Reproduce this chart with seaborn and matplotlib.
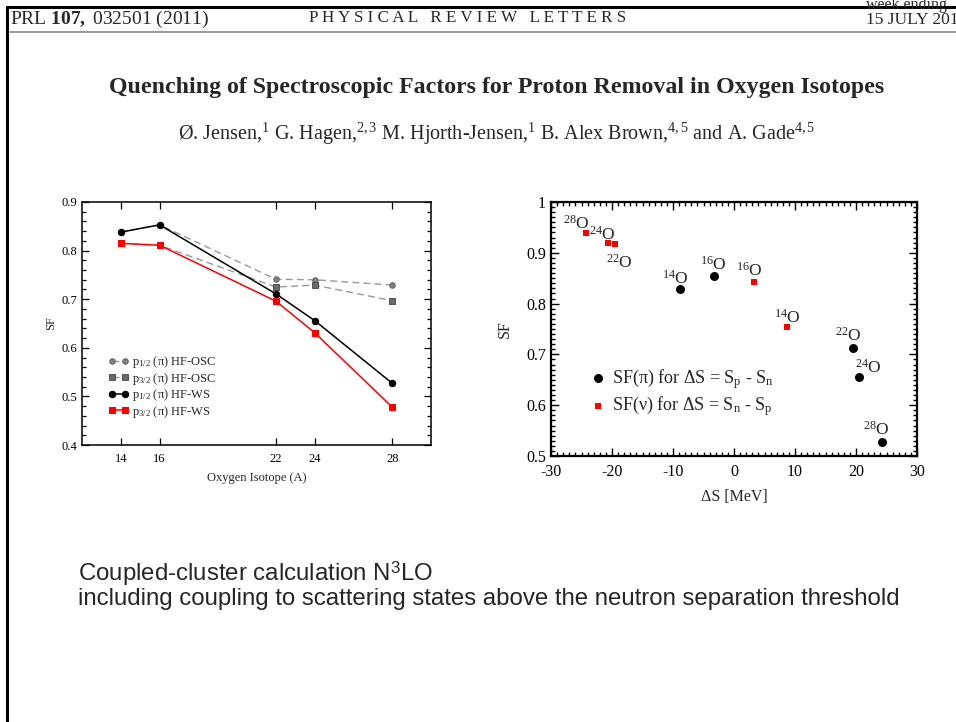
import matplotlib
matplotlib.use("Agg")
import matplotlib.pyplot as plt
from matplotlib.lines import Line2D
from matplotlib.ticker import MultipleLocator, FixedLocator
import seaborn as sns
import pandas as pd

# ---------------- data ----------------
isotopes = [14, 16, 22, 24, 28]
sf_p12_osc = [0.838, 0.853, 0.741, 0.740, 0.729]
sf_p32_osc = [0.815, 0.811, 0.725, 0.729, 0.697]
sf_p12_ws = [0.838, 0.853, 0.711, 0.656, 0.527]
sf_p32_ws = [0.815, 0.811, 0.696, 0.631, 0.478]
left_labels = [r"p$_{1/2}$ (π) HF-OSC", r"p$_{3/2}$ (π) HF-OSC",
               r"p$_{1/2}$ (π) HF-WS", r"p$_{3/2}$ (π) HF-WS"]

mass_pi = ["14", "16", "22", "24", "28"]
ds_pi = [-8.8, -3.2, 19.5, 20.55, 24.2]
sf_pi = [0.829, 0.854, 0.712, 0.656, 0.527]
mass_nu = ["28", "24", "22", "16", "14"]
ds_nu = [-24.2, -20.6, -19.45, 3.2, 8.75]
sf_nu = [0.939, 0.919, 0.917, 0.843, 0.754]
right_labels = [r"SF(π) for ΔS = S$_\mathrm{p}$ - S$_\mathrm{n}$",
                r"SF(ν) for ΔS = S$_\mathrm{n}$ - S$_\mathrm{p}$"]

# label offsets (pixels, O-centre relative to point; +y = down)
off_pi = [(0, -11.3), (4, -12), (0, -14), (14.3, -10), (0, -13.3)]
off_nu = [(-4.7, -10.3), (-1.3, -9), (8.7, 17.3), (0.3, -11.7), (5.3, -10)]

# ---------------- style ----------------
sns.set_theme(style="ticks")
plt.rcParams["font.family"] = ["Liberation Serif", "DejaVu Serif"]
plt.rcParams["mathtext.fontset"] = "custom"
plt.rcParams["mathtext.rm"] = "Liberation Serif"
plt.rcParams["mathtext.it"] = "Liberation Serif:italic"
plt.rcParams["mathtext.bf"] = "Liberation Serif:bold"
plt.rcParams["mathtext.sf"] = "Liberation Sans"
plt.rcParams["axes.formatter.use_mathtext"] = False
plt.rcParams["axes.unicode_minus"] = False

W, H = 956, 722
fig = plt.figure(figsize=(W / 100, H / 100), dpi=100)
fig.patch.set_facecolor("white")


def fx(px):
    return px / W


def fy(py):
    return 1 - py / H


# frame lines
fig.add_artist(Line2D([fx(7), 1], [fy(7), fy(7)], color="black", lw=2.2))
fig.add_artist(Line2D([fx(7), fx(7)], [fy(7), 0], color="black", lw=2.2))
fig.add_artist(Line2D([fx(10), 1], [fy(32), fy(32)], color="#888888", lw=1.2))

# header
fig.text(fx(10), fy(19), r"PRL $\mathbf{107,}$ 032501 (2011)", fontsize=14, va="center")
fig.text(fx(468), fy(18), "P H Y S I C A L   R E V I E W   L E T T E R S", fontsize=12.3,
         va="center", ha="center")
fig.text(fx(866), fy(5), "week ending", fontsize=11.5, va="center")
fig.text(fx(866), fy(20), "15 JULY 2011", fontsize=12.5, va="center")

fig.text(fx(497), fy(88), "Quenching of Spectroscopic Factors for Proton Removal in Oxygen Isotopes",
         fontsize=17.2, fontweight="bold", ha="center", va="center")
fig.text(fx(497), fy(134),
         r"Ø. Jensen,$^{1}$ G. Hagen,$^{2,3}$ M. Hjorth-Jensen,$^{1}$ B. Alex Brown,$^{4,5}$ and A. Gade$^{4,5}$",
         fontsize=14.5, ha="center", va="center")

fig.text(fx(78), fy(574), r"Coupled-cluster calculation N$^{\mathsf{3}}$LO", fontsize=17.3,
         family="Liberation Sans", va="center")
fig.text(fx(78), fy(599), "including coupling to scattering states above the neutron separation threshold",
         fontsize=17.3, family="Liberation Sans", va="center")

# ---------------- left chart ----------------
axL = fig.add_axes([fx(82), fy(445), fx(431 - 82), (445 - 202) / H])
dfL = pd.DataFrame({"A": isotopes, "osc12": sf_p12_osc, "osc32": sf_p32_osc,
                    "ws12": sf_p12_ws, "ws32": sf_p32_ws})
dash = (5, 3)
sns.lineplot(data=dfL, x="A", y="osc12", ax=axL, color="#999999", lw=1.0,
             linestyle=(0, dash), marker="o", markersize=4, markerfacecolor="#808080",
             markeredgecolor="#5a5a5a", markeredgewidth=0.6, label=left_labels[0], sort=False)
sns.lineplot(data=dfL, x="A", y="osc32", ax=axL, color="#999999", lw=1.0,
             linestyle=(0, dash), marker="s", markersize=3.8, markerfacecolor="#6a6a6a",
             markeredgecolor="#444444", markeredgewidth=0.6, label=left_labels[1], sort=False)
sns.lineplot(data=dfL, x="A", y="ws12", ax=axL, color="black", lw=1.1,
             marker="o", markersize=4.6, markerfacecolor="black", markeredgecolor="black",
             label=left_labels[2], sort=False)
sns.lineplot(data=dfL, x="A", y="ws32", ax=axL, color="red", lw=1.1,
             marker="s", markersize=4.2, markerfacecolor="red", markeredgecolor="red",
             label=left_labels[3], sort=False)
axL.set_xlim(12, 30)
axL.set_ylim(0.4, 0.9)
axL.xaxis.set_major_locator(FixedLocator(isotopes))
axL.yaxis.set_major_locator(MultipleLocator(0.1))
axL.yaxis.set_minor_locator(MultipleLocator(0.02))
axL.tick_params(axis="both", which="both", direction="in", top=True, right=True,
                labelsize=9, colors="black", width=0.9)
axL.tick_params(which="major", length=5)
axL.tick_params(which="minor", length=3)
axL.tick_params(axis="x", pad=6)
for s in axL.spines.values():
    s.set_linewidth(1.1)
    s.set_color("black")
axL.set_xlabel("Oxygen Isotope (A)", fontsize=9, labelpad=5)
axL.set_ylabel("SF", fontsize=9, labelpad=3)
axL.legend(loc="upper left", bbox_to_anchor=(0.06, 0.395), frameon=False, fontsize=9,
           handlelength=1.65, handletextpad=0.25, labelspacing=0.04, numpoints=2,
           borderaxespad=0)

# ---------------- right chart ----------------
axR = fig.add_axes([fx(551), fy(456), fx(917 - 551), (456 - 202) / H])
dfPi = pd.DataFrame({"dS": ds_pi, "SF": sf_pi})
dfNu = pd.DataFrame({"dS": ds_nu, "SF": sf_nu})
sns.scatterplot(data=dfPi, x="dS", y="SF", ax=axR, marker="o", s=42, color="black",
                edgecolor="black", linewidth=0, label=right_labels[0], zorder=3)
sns.scatterplot(data=dfNu, x="dS", y="SF", ax=axR, marker="s", s=20, color="red",
                edgecolor="red", linewidth=0, label=right_labels[1], zorder=3)
for m, x, y, (dx, dy) in zip(mass_pi, ds_pi, sf_pi, off_pi):
    axR.annotate(rf"$^{{{m}}}$O", xy=(x, y), xytext=((dx - 5) * 0.72, -(dy + 6) * 0.72),
                 textcoords="offset points", ha="center", va="baseline", fontsize=12.5)
for m, x, y, (dx, dy) in zip(mass_nu, ds_nu, sf_nu, off_nu):
    axR.annotate(rf"$^{{{m}}}$O", xy=(x, y), xytext=((dx - 5) * 0.72, -(dy + 6) * 0.72),
                 textcoords="offset points", ha="center", va="baseline", fontsize=12.5)
axR.set_xlim(-30, 30)
axR.set_ylim(0.5, 1.0)
axR.xaxis.set_major_locator(MultipleLocator(10))
axR.xaxis.set_minor_locator(MultipleLocator(1))
axR.yaxis.set_major_locator(MultipleLocator(0.1))
axR.yaxis.set_minor_locator(MultipleLocator(0.01))
axR.xaxis.set_major_formatter(plt.FuncFormatter(lambda v, p: f"{v:.0f}"))
axR.yaxis.set_major_formatter(plt.FuncFormatter(lambda v, p: "1" if abs(v - 1) < 1e-9 else f"{v:.1f}"))
axR.tick_params(axis="both", which="both", direction="in", top=True, right=True,
                labelsize=11.5, colors="black", width=1.0)
axR.tick_params(which="major", length=6)
axR.tick_params(which="minor", length=3)
axR.tick_params(axis="x", pad=6)
for s in axR.spines.values():
    s.set_linewidth(1.6)
    s.set_color("black")
axR.set_xlabel("ΔS [MeV]", fontsize=11.5, labelpad=6)
axR.set_ylabel("SF", fontsize=11.5, labelpad=10)
axR.legend(loc="upper left", bbox_to_anchor=(0.095, 0.38), frameon=False, fontsize=13,
           handlelength=0.6, handletextpad=0.45, labelspacing=0.22, borderaxespad=0,
           markerscale=1.0)

fig.savefig("out.png", dpi=100, facecolor="white")
